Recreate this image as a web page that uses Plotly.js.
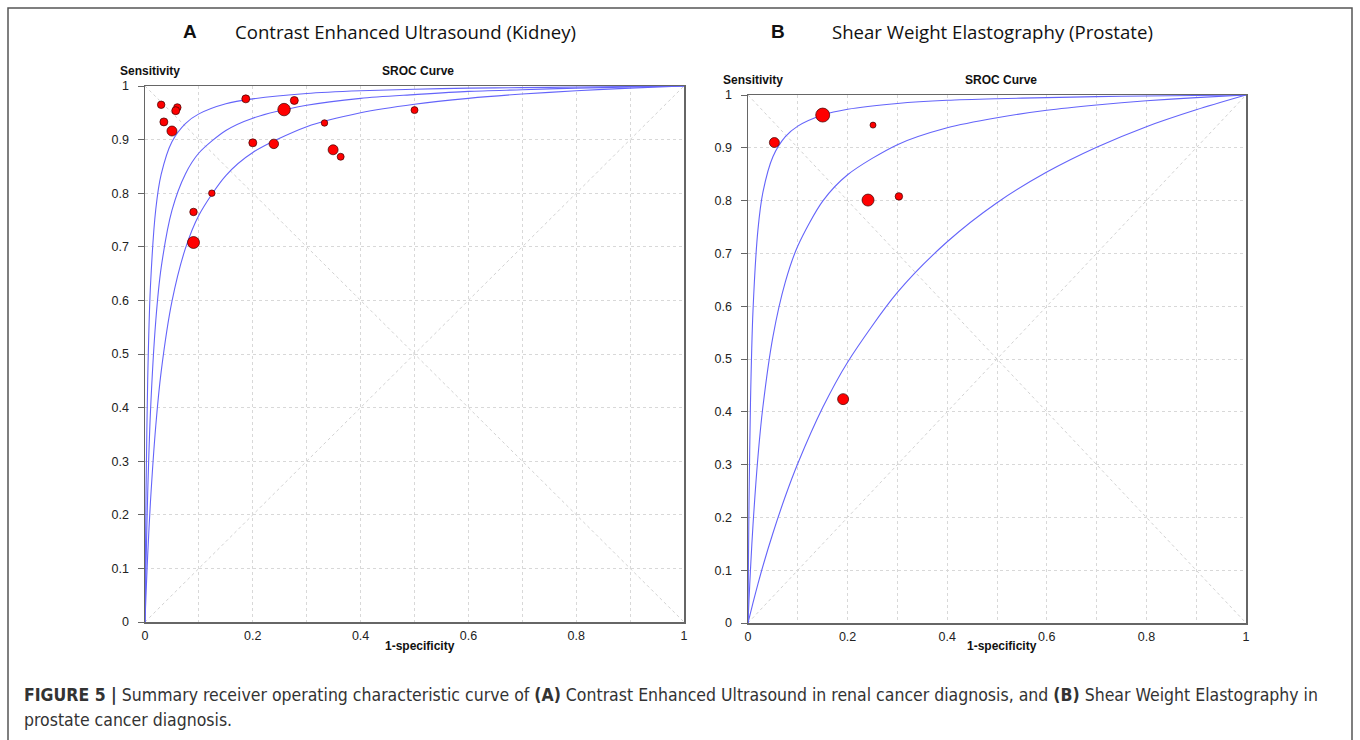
<!DOCTYPE html>
<html>
<head>
<meta charset="utf-8">
<script src="https://cdn.plot.ly/plotly-3.0.1.min.js"></script>
<style>
  html, body { margin: 0; padding: 0; background: #ffffff; }
  #chart { width: 1360px; height: 740px; }
</style>
</head>
<body>
<div id="chart"></div>
<script>
// ---- Panel A: Contrast Enhanced Ultrasound (Kidney) ----
const aStudyFpr  = [0.030, 0.035, 0.050, 0.060, 0.057, 0.187, 0.258, 0.277, 0.200, 0.239, 0.333, 0.349, 0.363, 0.500, 0.124, 0.090, 0.090];
const aStudySens = [0.965, 0.933, 0.916, 0.960, 0.954, 0.976, 0.956, 0.973, 0.894, 0.892, 0.931, 0.881, 0.868, 0.955, 0.800, 0.765, 0.708];
const aStudyWeight = [7.5, 8, 10, 7.5, 8, 8, 12.5, 8, 8, 9.5, 6.5, 10, 7, 7, 6.5, 7.5, 12];

// ---- Panel B: Shear Weight Elastography (Prostate) ----
const bStudyFpr  = [0.053, 0.150, 0.251, 0.241, 0.303, 0.191];
const bStudySens = [0.910, 0.962, 0.943, 0.801, 0.808, 0.424];
const bStudyWeight = [10, 14, 6, 12, 7.5, 11];

// ---- SROC curves ----
const curveFpr   = [0, 0.001, 0.002, 0.005, 0.01, 0.02, 0.03, 0.05, 0.075, 0.1, 0.15, 0.2, 0.3, 0.4, 0.5, 0.6, 0.7, 0.8, 0.9, 1];
const aCurveUpper = [0, 0.141, 0.247, 0.452, 0.624, 0.770, 0.835, 0.896, 0.930, 0.948, 0.967, 0.976, 0.986, 0.991, 0.994, 0.996, 0.997, 0.998, 0.999, 1];
const aCurveMid   = [0, 0.059, 0.112, 0.240, 0.389, 0.562, 0.661, 0.768, 0.836, 0.875, 0.917, 0.940, 0.964, 0.977, 0.984, 0.990, 0.993, 0.996, 0.998, 1];
const aCurveLower = [0, 0.028, 0.054, 0.125, 0.222, 0.366, 0.467, 0.598, 0.697, 0.759, 0.833, 0.876, 0.924, 0.950, 0.966, 0.977, 0.985, 0.991, 0.996, 1];
const bCurveUpper = [0, 0.125, 0.223, 0.418, 0.591, 0.745, 0.816, 0.883, 0.921, 0.941, 0.962, 0.973, 0.984, 0.990, 0.993, 0.995, 0.997, 0.998, 0.999, 1];
const bCurveMid   = [0, 0.022, 0.043, 0.102, 0.185, 0.315, 0.410, 0.542, 0.646, 0.714, 0.799, 0.849, 0.906, 0.938, 0.957, 0.971, 0.981, 0.989, 0.995, 1];
const bCurveLower = [0, 0.004, 0.008, 0.019, 0.038, 0.074, 0.108, 0.170, 0.240, 0.302, 0.408, 0.494, 0.626, 0.722, 0.796, 0.854, 0.901, 0.940, 0.972, 1];

// ---- Text ----
const panelLetters = ['A', 'B'];
const panelTitles = ['Contrast Enhanced Ultrasound (Kidney)', 'Shear Weight Elastography (Prostate)'];
const yLabel = 'Sensitivity';
const plotLabel = 'SROC Curve';
const xLabel = '1-specificity';
const captionLine1 = '<b>FIGURE 5 |</b> Summary receiver operating characteristic curve of <b>(A)</b> Contrast Enhanced Ultrasound in renal cancer diagnosis, and <b>(B)</b> Shear Weight Elastography in';
const captionLine2 = 'prostate cancer diagnosis.';

const W = 1360, H = 740;
const px = v => v / W;
const py = v => 1 - v / H;

const curveStyle = {color: 'rgb(100,100,250)', width: 1.1, shape: 'spline', smoothing: 0.8};
const markerStyle = (sizes) => ({color: '#ff0000', opacity: 1, size: sizes, line: {color: '#3a0000', width: 0.7}});

function curve(x, y, xa, ya) {
  return {x: x, y: y, xaxis: xa, yaxis: ya, type: 'scatter', mode: 'lines', line: curveStyle, hoverinfo: 'skip', showlegend: false};
}

const traces = [
  curve(curveFpr, aCurveUpper, 'x', 'y'),
  curve(curveFpr, aCurveMid, 'x', 'y'),
  curve(curveFpr, aCurveLower, 'x', 'y'),
  {x: aStudyFpr, y: aStudySens, xaxis: 'x', yaxis: 'y', type: 'scatter', mode: 'markers', opacity: 1,
   marker: markerStyle(aStudyWeight), showlegend: false, cliponaxis: false},
  curve(curveFpr, bCurveUpper, 'x2', 'y2'),
  curve(curveFpr, bCurveMid, 'x2', 'y2'),
  curve(curveFpr, bCurveLower, 'x2', 'y2'),
  {x: bStudyFpr, y: bStudySens, xaxis: 'x2', yaxis: 'y2', type: 'scatter', mode: 'markers', opacity: 1,
   marker: markerStyle(bStudyWeight), showlegend: false, cliponaxis: false}
];

const tickFont = {family: 'Liberation Sans, Arial, sans-serif', size: 12.5, color: '#222'};
function xAxis(domain, anchor) {
  return {
    domain: domain, anchor: anchor, range: [0, 1], dtick: 0.2, tick0: 0,
    showline: true, linecolor: '#666', linewidth: 1.5, mirror: true,
    showgrid: true, gridcolor: '#d8d8d8', griddash: 'dot', gridwidth: 1,
    minor: {dtick: 0.1, showgrid: true, gridcolor: '#d8d8d8', griddash: 'dot', gridwidth: 1},
    ticks: '', ticklabelstandoff: 1, tickfont: tickFont, zeroline: false, fixedrange: true
  };
}
function yAxis(domain, anchor) {
  return {
    domain: domain, anchor: anchor, range: [0, 1], dtick: 0.1, tick0: 0,
    showline: true, linecolor: '#666', linewidth: 1.5, mirror: true,
    showgrid: true, gridcolor: '#d8d8d8', griddash: 'dot', gridwidth: 1,
    ticks: 'outside', ticklen: 6, tickcolor: '#666', tickwidth: 1,
    ticklabelstandoff: 6, tickfont: tickFont, zeroline: false, fixedrange: true
  };
}

const diag = (xr, yr) => ([
  {type: 'line', xref: xr, yref: yr, x0: 0, y0: 1, x1: 1, y1: 0, line: {color: '#d2d2d2', width: 1, dash: 'dot'}, layer: 'below'},
  {type: 'line', xref: xr, yref: yr, x0: 0, y0: 0, x1: 1, y1: 1, line: {color: '#d2d2d2', width: 1, dash: 'dot'}, layer: 'below'}
]);

const boldFont = {family: 'Liberation Sans, Arial, sans-serif', size: 12, color: '#111'};
const titleFont = {family: 'Open Sans, sans-serif', size: 18.6, color: '#111'};
const letterFont = {family: 'Liberation Sans, Arial, sans-serif', size: 19, color: '#111'};
const capFont = {family: 'DejaVu Sans Condensed, sans-serif', size: 17.5, color: '#333'};

function ann(text, x, y, font, xanchor) {
  return {text: text, x: px(x), y: py(y), xref: 'paper', yref: 'paper', showarrow: false,
          xanchor: xanchor || 'center', yanchor: 'middle', font: font};
}

const layout = {
  width: W, height: H,
  margin: {l: 0, r: 0, t: 0, b: 0},
  paper_bgcolor: '#ffffff', plot_bgcolor: '#ffffff',
  showlegend: false,
  xaxis: xAxis([px(145), px(684)], 'y'),
  yaxis: yAxis([py(622), py(86)], 'x'),
  xaxis2: xAxis([px(748), px(1246)], 'y2'),
  yaxis2: yAxis([py(623), py(95)], 'x2'),
  shapes: [].concat(diag('x', 'y'), diag('x2', 'y2'), [
    {type: 'rect', xref: 'paper', yref: 'paper', x0: px(8), x1: px(1352), y0: -0.2, y1: py(8),
     line: {color: '#555', width: 1.5}, fillcolor: 'rgba(0,0,0,0)', layer: 'above'}
  ]),
  annotations: [
    ann('<b>' + panelLetters[0] + '</b>', 190, 31, letterFont),
    ann(panelTitles[0], 233, 31, titleFont, 'left'),
    ann('<b>' + panelLetters[1] + '</b>', 778, 31, letterFont),
    ann(panelTitles[1], 830, 31, titleFont, 'left'),
    ann('<b>' + yLabel + '</b>', 150, 71, boldFont),
    ann('<b>' + plotLabel + '</b>', 418, 71, boldFont),
    ann('<b>' + xLabel + '</b>', 420, 646, boldFont),
    ann('<b>' + yLabel + '</b>', 753, 80, boldFont),
    ann('<b>' + plotLabel + '</b>', 1001, 80, boldFont),
    ann('<b>' + xLabel + '</b>', 1002, 646, boldFont),
    ann(captionLine1, 22, 695, capFont, 'left'),
    ann(captionLine2, 22, 720, capFont, 'left')
  ]
};

Plotly.newPlot('chart', traces, layout, {displayModeBar: false, staticPlot: true});
</script>
</body>
</html>
